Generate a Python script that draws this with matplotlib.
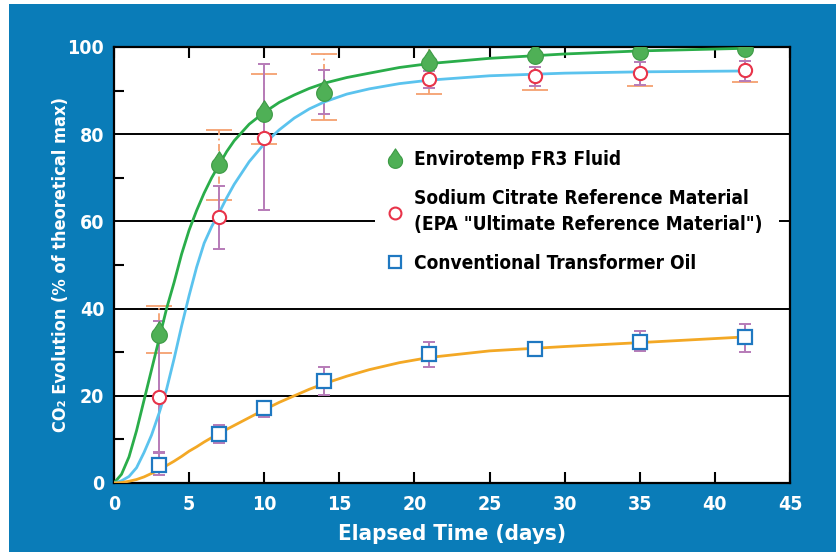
import numpy as np
import matplotlib
matplotlib.use("Agg")
from matplotlib import pyplot as plt
from matplotlib import font_manager
from matplotlib.path import Path
from matplotlib.patches import Rectangle

# pick a condensed face if one is around
names = {(f.name, f.stretch) for f in font_manager.fontManager.ttflist}
if any(n == 'Liberation Sans Narrow' for n, _ in names):
    plt.rcParams['font.family'] = ['Liberation Sans Narrow', 'DejaVu Sans']
elif ('DejaVu Sans', 'condensed') in names:
    plt.rcParams['font.family'] = ['DejaVu Sans']
    plt.rcParams['font.stretch'] = 'condensed'
else:
    plt.rcParams['font.family'] = ['Roboto', 'DejaVu Sans']
plt.rcParams['font.weight'] = 'bold'

# sample days
days = [3, 7, 10, 14, 21, 28, 35, 42]

# Envirotemp FR3 fluid
fr3 = [34.5, 73.5, 85.0, 89.8, 96.8, 98.4, 99.3, 100.0]
fr3_lo = [29.8, 65.0, 77.8, 83.3, 89.2, 90.1, 91.0, 92.0]
fr3_hi = [40.6, 81.0, 93.8, 98.4, 104.0, 106.0, 107.5, 108.0]

# sodium citrate reference
citrate = [19.8, 61.0, 79.2, 89.7, 92.6, 93.3, 94.1, 94.7]
citrate_lo = [6.9, 53.6, 62.6, 84.6, 90.6, 91.0, 91.3, 92.2]
citrate_hi = [37.2, 68.1, 96.1, 94.7, 94.5, 95.4, 96.5, 96.8]

# conventional transformer oil
oil = [4.1, 11.2, 17.2, 23.4, 29.6, 30.8, 32.4, 33.6]
oil_lo = [1.8, 9.2, 15.1, 20.2, 26.6, 29.8, 30.2, 30.1]
oil_hi = [7.0, 13.3, 18.8, 26.6, 32.4, 31.8, 34.9, 36.5]

# fitted curves
fit_t = [0, 0.5, 1, 1.5, 2, 2.5, 3, 3.5, 4, 4.5, 5, 5.5, 6, 6.5, 7, 7.5,
         8, 9, 10, 11, 12, 13, 14, 15.5, 17, 19, 21, 25, 30, 35, 42]
fit_fr3 = [0, 2, 6, 12, 19, 26, 33, 40, 46, 52.5, 58, 62.5, 66.5, 70, 73,
           76, 78.5, 82.3, 85, 87.3, 89, 90.5, 91.7, 93, 94, 95.3, 96.2,
           97.4, 98.4, 99.1, 99.7]
fit_citrate = [0, 0.5, 1.5, 3.5, 7, 11, 16, 21.5, 28.5, 36, 43, 49.5, 55,
               58.8, 62, 65.4, 68.5, 73.7, 77.8, 81, 83.7, 85.8, 87.4,
               89.2, 90.4, 91.6, 92.4, 93.4, 94.0, 94.3, 94.5]
fit_oil = [0, 0.1, 0.4, 0.8, 1.4, 2.2, 3.0, 4.0, 5.0, 6.1, 7.3, 8.3, 9.4,
           10.4, 11.3, 12.3, 13.2, 15.0, 16.8, 18.5, 20.0, 21.5, 22.8,
           24.5, 26.0, 27.6, 28.8, 30.3, 31.3, 32.2, 33.5]

labels = ['Envirotemp FR3 Fluid',
          'Sodium Citrate Reference Material\n(EPA "Ultimate Reference Material")',
          'Conventional Transformer Oil']

BLUE_BG = '#0a7cb8'


def droplet_marker():
    """ teardrop shaped marker path """
    ang = np.linspace(np.radians(-230), np.radians(50), 40)
    pts = [(0.0, 1.5)]
    pts += [(np.cos(t), np.sin(t) - 0.25) for t in ang[::-1]]
    pts.append((0.0, 1.5))
    codes = [Path.MOVETO] + [Path.LINETO] * (len(pts) - 2) + [Path.CLOSEPOLY]
    return Path(pts, codes)


fig = plt.figure(figsize=(8.36, 5.52), dpi=100, facecolor='white')
fig.patches.append(Rectangle((9 / 836, 0), 1, 548 / 552, transform=fig.transFigure,
                             facecolor=BLUE_BG, edgecolor='none', zorder=-10))
ax = fig.add_axes([114 / 836, 69 / 552, 676 / 836, 436 / 552])
ax.set_facecolor('white')

for v in [20, 40, 60, 80]:
    ax.axhline(v, color='black', lw=1.4, zorder=1)

drop = droplet_marker()

eb = ax.errorbar(days, fr3, yerr=[np.subtract(fr3, fr3_lo), np.subtract(fr3_hi, fr3)],
                 fmt='none', ecolor='#f5a070', elinewidth=1.3, capsize=9.5, capthick=1.3, zorder=2)
eb[2][0].set_linestyle((0, (4, 2, 1, 2)))
ax.errorbar(days, citrate, yerr=[np.subtract(citrate, citrate_lo), np.subtract(citrate_hi, citrate)],
            fmt='none', ecolor='#b77bb8', elinewidth=1.4, capsize=4, capthick=1.4, zorder=2.5)
ax.errorbar(days, oil, yerr=[np.subtract(oil, oil_lo), np.subtract(oil_hi, oil)],
            fmt='none', ecolor='#b77bb8', elinewidth=1.4, capsize=4, capthick=1.4, zorder=2.5)

ax.plot(fit_t, fit_fr3, color='#2aad4a', lw=2, zorder=3)
ax.plot(fit_t, fit_citrate, color='#5bc3ee', lw=2, zorder=3)
ax.plot(fit_t, fit_oil, color='#f3a825', lw=2, zorder=3)

ax.plot(days, citrate, ls='none', marker='o', ms=9.5, mfc='white', mec='#e8344a', mew=1.5,
        zorder=4, label=labels[1])
ax.plot(days, oil, ls='none', marker='s', ms=9.5, mfc='white', mec='#1f78c1', mew=1.6,
        zorder=4, label=labels[2])
ax.plot(days, fr3, ls='none', marker=drop, ms=17, mfc='#4fb056', mec='#3c9a45', mew=0.8,
        zorder=5, label=labels[0])

# white panel behind the legend (hides the 60 line)
ax.add_patch(Rectangle((17.4, 43), 44.3 - 17.4, 35, facecolor='white', edgecolor='none',
                       zorder=5.5))

handles, labs = ax.get_legend_handles_labels()
order = [2, 0, 1]
leg = ax.legend([handles[i] for i in order], [labs[i] for i in order],
                loc='upper left', bbox_to_anchor=(0.401, 0.763), frameon=False,
                fontsize=13.7, handlelength=1.0, handletextpad=0.5, labelspacing=1.05,
                borderpad=0, borderaxespad=0, markerscale=0.9)
for t in leg.get_texts():
    t.set_linespacing(1.45)
leg.set_zorder(6)

ax.set_xlim(0, 45)
ax.set_ylim(0, 100)
ax.set_xticks([0, 5, 10, 15, 20, 25, 30, 35, 40, 45])
ax.set_yticks([0, 20, 40, 60, 80, 100])
ax.set_yticks([10, 30, 50, 70, 90], minor=True)
ax.tick_params(axis='x', direction='in', length=8, width=1.5, top=True, colors='black',
               labelcolor='white', labelsize=14, pad=9)
ax.tick_params(axis='y', which='major', length=0, labelcolor='white', labelsize=14, pad=7)
ax.tick_params(axis='y', which='minor', direction='in', length=7, width=1.5)
for lab in ax.get_xticklabels() + ax.get_yticklabels():
    lab.set_fontweight('bold')
for s in ax.spines.values():
    s.set_linewidth(1.6)
    s.set_color('black')

ax.set_xlabel('Elapsed Time (days)', color='white', fontsize=16, fontweight='bold', labelpad=7)
ax.set_ylabel('CO₂ Evolution (% of theoretical max)', color='white', fontsize=13,
              fontweight='bold', labelpad=-2)

fig.savefig('out.png', dpi=100, facecolor=fig.get_facecolor())
